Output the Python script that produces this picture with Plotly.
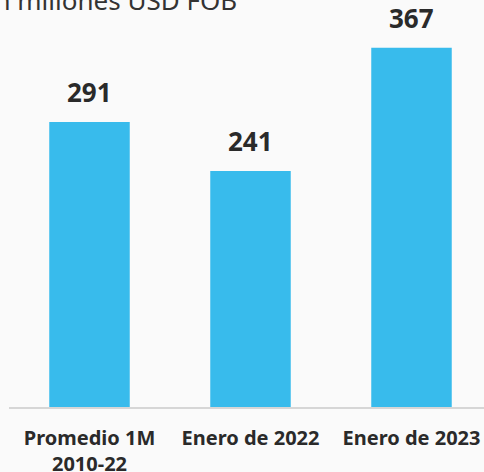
import plotly.graph_objects as go

categories = ["Promedio 1M<br>2010-22", "Enero de 2022", "Enero de 2023"]
values = [291, 241, 367]
title_text = "En millones USD FOB"

BAR_COLOR = "#38bbec"
BG = "#fafafa"
TEXT = "#2a2a2a"

fig = go.Figure(go.Bar(
    x=list(range(len(categories))),
    y=values,
    width=0.5,
    marker=dict(color=BAR_COLOR, line=dict(width=0)),
    hoverinfo="skip",
))

for i, v in enumerate(values):
    fig.add_annotation(
        x=i, y=v, text=f"<b>{v}</b>", showarrow=False,
        xanchor="center", yanchor="bottom", yshift=10,
        font=dict(family="Noto Sans", size=26, color=TEXT),
    )

W, H = 484, 472
ml, mt, mb = 9, 40, 65
plot_w = W - ml
plot_h = H - mt - mb
fig.add_annotation(
    xref="paper", yref="paper",
    x=(-22 - ml) / plot_w, y=1 + mt / plot_h,
    xanchor="left", yanchor="middle",
    text=title_text, showarrow=False,
    font=dict(family="Noto Sans", size=26, color="#333333"),
)

fig.update_layout(
    width=W, height=H,
    margin=dict(l=ml, r=0, t=mt, b=mb, pad=0, autoexpand=False),
    paper_bgcolor=BG, plot_bgcolor=BG,
    showlegend=False,
    font=dict(family="Noto Sans", color=TEXT),
    xaxis=dict(
        range=[-0.5, -0.5 + plot_w / 161.0],
        tickmode="array",
        tickvals=list(range(len(categories))),
        ticktext=[f"<b>{c}</b>".replace("<br>", "</b><br><b>") for c in categories],
        tickfont=dict(family="Noto Sans", size=20, color=TEXT),
        showline=True, linecolor="#d6d6d6", linewidth=2,
        ticks="outside", ticklen=12, tickcolor="rgba(0,0,0,0)",
        showgrid=False, zeroline=False, fixedrange=True,
        automargin=False,
    ),
    yaxis=dict(
        range=[0, plot_h / 0.979],
        visible=False, showgrid=False, zeroline=False, fixedrange=True,
        automargin=False,
    ),
)

fig.write_html(
    "out.html",
    config={"displayModeBar": False},
    post_script="document.body.style.margin='0';document.body.style.overflow='hidden';",
)
